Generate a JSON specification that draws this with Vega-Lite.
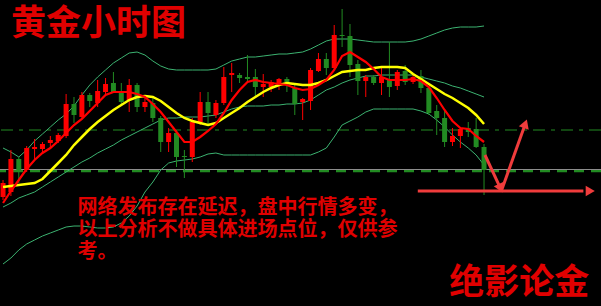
{
  "$schema": "https://vega.github.io/schema/vega-lite/v6.json",
  "width": 601,
  "height": 306,
  "autosize": {"type": "none"},
  "padding": 0,
  "background": "#000000",
  "config": {"view": {"stroke": null}},
  "datasets": {
    "bars": [
      {"i": -1, "o": 109, "h": 126, "l": 106, "c": 123, "ma5": 103, "ma10": 119, "up": 158, "mid": 99, "dn": 42},
      {"i": 0, "o": 114, "h": 156, "l": 110, "c": 147, "ma5": 115, "ma10": 120, "up": 154, "mid": 103, "dn": 48},
      {"i": 1, "o": 147, "h": 149, "l": 123, "c": 136, "ma5": 126, "ma10": 121, "up": 149, "mid": 108, "dn": 56},
      {"i": 2, "o": 136, "h": 160, "l": 134, "c": 158, "ma5": 137, "ma10": 122, "up": 156, "mid": 111, "dn": 62},
      {"i": 3, "o": 157, "h": 167, "l": 146, "c": 159, "ma5": 146, "ma10": 123, "up": 165, "mid": 114, "dn": 66},
      {"i": 4, "o": 157, "h": 164, "l": 153, "c": 162, "ma5": 153, "ma10": 127, "up": 172, "mid": 119, "dn": 70},
      {"i": 5, "o": 163, "h": 170, "l": 159, "c": 166, "ma5": 158, "ma10": 135, "up": 179, "mid": 124, "dn": 73},
      {"i": 6, "o": 165, "h": 173, "l": 163, "c": 171, "ma5": 165, "ma10": 143, "up": 186, "mid": 129, "dn": 76},
      {"i": 7, "o": 170, "h": 212, "l": 168, "c": 202, "ma5": 173, "ma10": 151, "up": 192, "mid": 134, "dn": 79},
      {"i": 8, "o": 202, "h": 209, "l": 183, "c": 191, "ma5": 181, "ma10": 161, "up": 200, "mid": 139, "dn": 80},
      {"i": 9, "o": 189, "h": 214, "l": 188, "c": 211, "ma5": 187, "ma10": 169, "up": 211, "mid": 144, "dn": 80},
      {"i": 10, "o": 211, "h": 213, "l": 199, "c": 205, "ma5": 195, "ma10": 177, "up": 221, "mid": 148, "dn": 79},
      {"i": 11, "o": 203, "h": 226, "l": 199, "c": 215, "ma5": 203, "ma10": 184, "up": 229, "mid": 153, "dn": 78},
      {"i": 12, "o": 214, "h": 228, "l": 211, "c": 222, "ma5": 211, "ma10": 190, "up": 236, "mid": 157, "dn": 78},
      {"i": 13, "o": 223, "h": 234, "l": 213, "c": 214, "ma5": 214, "ma10": 196, "up": 243, "mid": 161, "dn": 79},
      {"i": 14, "o": 215, "h": 223, "l": 201, "c": 204, "ma5": 214, "ma10": 201, "up": 248, "mid": 166, "dn": 83},
      {"i": 15, "o": 206, "h": 227, "l": 194, "c": 221, "ma5": 214, "ma10": 206, "up": 253, "mid": 170, "dn": 90},
      {"i": 16, "o": 221, "h": 223, "l": 194, "c": 199, "ma5": 212, "ma10": 209, "up": 254, "mid": 174, "dn": 100},
      {"i": 17, "o": 199, "h": 208, "l": 194, "c": 204, "ma5": 209, "ma10": 210, "up": 251, "mid": 178, "dn": 114},
      {"i": 18, "o": 203, "h": 208, "l": 184, "c": 188, "ma5": 202, "ma10": 209, "up": 245, "mid": 182, "dn": 124},
      {"i": 19, "o": 188, "h": 190, "l": 154, "c": 164, "ma5": 194, "ma10": 205, "up": 240, "mid": 186, "dn": 136},
      {"i": 20, "o": 164, "h": 178, "l": 154, "c": 173, "ma5": 184, "ma10": 199, "up": 237, "mid": 188, "dn": 143},
      {"i": 21, "o": 173, "h": 176, "l": 139, "c": 149, "ma5": 174, "ma10": 193, "up": 236, "mid": 188, "dn": 145},
      {"i": 22, "o": 150, "h": 156, "l": 128, "c": 149, "ma5": 164, "ma10": 188, "up": 236, "mid": 189, "dn": 146},
      {"i": 23, "o": 149, "h": 188, "l": 144, "c": 184, "ma5": 164, "ma10": 185, "up": 236, "mid": 189, "dn": 147},
      {"i": 24, "o": 184, "h": 214, "l": 181, "c": 204, "ma5": 169, "ma10": 183, "up": 236, "mid": 189, "dn": 149},
      {"i": 25, "o": 204, "h": 214, "l": 181, "c": 193, "ma5": 175, "ma10": 181, "up": 236, "mid": 190, "dn": 152},
      {"i": 26, "o": 191, "h": 206, "l": 188, "c": 203, "ma5": 182, "ma10": 183, "up": 237, "mid": 191, "dn": 153},
      {"i": 27, "o": 203, "h": 239, "l": 201, "c": 229, "ma5": 193, "ma10": 188, "up": 241, "mid": 194, "dn": 151},
      {"i": 28, "o": 231, "h": 243, "l": 214, "c": 233, "ma5": 206, "ma10": 193, "up": 245, "mid": 197, "dn": 151},
      {"i": 29, "o": 231, "h": 233, "l": 223, "c": 228, "ma5": 216, "ma10": 198, "up": 247, "mid": 199, "dn": 151},
      {"i": 30, "o": 229, "h": 251, "l": 224, "c": 227, "ma5": 224, "ma10": 204, "up": 249, "mid": 200, "dn": 151},
      {"i": 31, "o": 229, "h": 237, "l": 210, "c": 219, "ma5": 226, "ma10": 209, "up": 249, "mid": 200, "dn": 151},
      {"i": 32, "o": 219, "h": 232, "l": 209, "c": 222, "ma5": 224, "ma10": 214, "up": 250, "mid": 200, "dn": 151},
      {"i": 33, "o": 219, "h": 226, "l": 214, "c": 224, "ma5": 223, "ma10": 218, "up": 251, "mid": 201, "dn": 151},
      {"i": 34, "o": 223, "h": 228, "l": 216, "c": 227, "ma5": 222, "ma10": 221, "up": 252, "mid": 201, "dn": 151},
      {"i": 35, "o": 227, "h": 229, "l": 214, "c": 224, "ma5": 221, "ma10": 223, "up": 252, "mid": 202, "dn": 151},
      {"i": 36, "o": 218, "h": 221, "l": 191, "c": 202, "ma5": 218, "ma10": 222, "up": 253, "mid": 202, "dn": 151},
      {"i": 37, "o": 204, "h": 208, "l": 186, "c": 207, "ma5": 216, "ma10": 221, "up": 254, "mid": 203, "dn": 151},
      {"i": 38, "o": 205, "h": 238, "l": 196, "c": 236, "ma5": 217, "ma10": 221, "up": 257, "mid": 206, "dn": 151},
      {"i": 39, "o": 235, "h": 253, "l": 234, "c": 247, "ma5": 221, "ma10": 223, "up": 261, "mid": 211, "dn": 154},
      {"i": 40, "o": 247, "h": 253, "l": 231, "c": 238, "ma5": 226, "ma10": 226, "up": 265, "mid": 216, "dn": 158},
      {"i": 41, "o": 238, "h": 281, "l": 236, "c": 271, "ma5": 236, "ma10": 230, "up": 267, "mid": 219, "dn": 169},
      {"i": 42, "o": 271, "h": 297, "l": 259, "c": 270, "ma5": 250, "ma10": 234, "up": 267, "mid": 223, "dn": 181},
      {"i": 43, "o": 270, "h": 282, "l": 229, "c": 241, "ma5": 254, "ma10": 235, "up": 267, "mid": 226, "dn": 185},
      {"i": 44, "o": 242, "h": 246, "l": 211, "c": 225, "ma5": 249, "ma10": 236, "up": 266, "mid": 228, "dn": 189},
      {"i": 45, "o": 225, "h": 231, "l": 209, "c": 229, "ma5": 244, "ma10": 236, "up": 265, "mid": 230, "dn": 194},
      {"i": 46, "o": 229, "h": 231, "l": 221, "c": 223, "ma5": 237, "ma10": 238, "up": 264, "mid": 230, "dn": 197},
      {"i": 47, "o": 223, "h": 239, "l": 211, "c": 229, "ma5": 229, "ma10": 239, "up": 264, "mid": 231, "dn": 197},
      {"i": 48, "o": 227, "h": 264, "l": 209, "c": 219, "ma5": 226, "ma10": 239, "up": 264, "mid": 231, "dn": 197},
      {"i": 49, "o": 220, "h": 236, "l": 216, "c": 234, "ma5": 226, "ma10": 239, "up": 264, "mid": 231, "dn": 197},
      {"i": 50, "o": 235, "h": 241, "l": 221, "c": 224, "ma5": 226, "ma10": 238, "up": 264, "mid": 231, "dn": 197},
      {"i": 51, "o": 224, "h": 231, "l": 222, "c": 229, "ma5": 227, "ma10": 232, "up": 265, "mid": 231, "dn": 197},
      {"i": 52, "o": 230, "h": 236, "l": 213, "c": 218, "ma5": 225, "ma10": 227, "up": 267, "mid": 229, "dn": 195},
      {"i": 53, "o": 218, "h": 220, "l": 191, "c": 193, "ma5": 219, "ma10": 222, "up": 270, "mid": 227, "dn": 192},
      {"i": 54, "o": 195, "h": 201, "l": 171, "c": 188, "ma5": 208, "ma10": 217, "up": 273, "mid": 225, "dn": 186},
      {"i": 55, "o": 188, "h": 196, "l": 159, "c": 164, "ma5": 196, "ma10": 212, "up": 276, "mid": 223, "dn": 179},
      {"i": 56, "o": 164, "h": 178, "l": 160, "c": 170, "ma5": 185, "ma10": 208, "up": 278, "mid": 220, "dn": 171},
      {"i": 57, "o": 170, "h": 179, "l": 158, "c": 177, "ma5": 178, "ma10": 203, "up": 279, "mid": 218, "dn": 164},
      {"i": 58, "o": 178, "h": 184, "l": 169, "c": 174, "ma5": 177, "ma10": 198, "up": 279, "mid": 215, "dn": 158},
      {"i": 59, "o": 177, "h": 188, "l": 158, "c": 159, "ma5": 170, "ma10": 191, "up": 279, "mid": 212, "dn": 151},
      {"i": 60, "o": 159, "h": 162, "l": 111, "c": 136, "ma5": 164, "ma10": 182, "up": 280, "mid": 209, "dn": 141}
    ],
    "levels": [
      {"name": "resistance", "v": 176},
      {"name": "support_band", "v": 135},
      {"name": "support", "v": 136.5}
    ],
    "arrows": [
      {"arrow": "flat", "i": 51.6, "v": 115, "i2": 72.6, "v2": 115},
      {"arrow": "down", "i": 60.12, "v": 151, "i2": 62.0, "v2": 119.1},
      {"arrow": "up", "i": 62.24, "v": 116, "i2": 65.17, "v2": 180.8}
    ],
    "heads": [
      {"arrow": "flat", "i": 73.28, "v": 115},
      {"arrow": "down", "i": 62.0, "v": 119.1},
      {"arrow": "up", "i": 65.17, "v": 180.8}
    ],
    "labels": [
      {"kind": "title", "txt": "黄金小时图", "i": 0.0, "v": 282},
      {"kind": "note", "txt": "网络发布存在延迟，盘中行情多变，", "i": 8.45, "v": 98.5},
      {"kind": "note", "txt": "以上分析不做具体进场点位，仅供参", "i": 8.45, "v": 76.5},
      {"kind": "note", "txt": "考。", "i": 8.45, "v": 54.5},
      {"kind": "brand", "txt": "绝影论金", "i": 55.6, "v": 23.5}
    ]
  },
  "layer": [
    {
      "data": {"name": "levels"},
      "transform": [{"filter": {"field": "name", "equal": "resistance"}}],
      "mark": {"type": "rule", "color": "#228b22", "strokeWidth": 1.2, "strokeDash": [12, 6, 4, 6]},
      "encoding": {
        "y": {"field": "v", "type": "quantitative", "scale": {"domain": [0, 306], "nice": false, "zero": false}, "axis": null}
      }
    },
    {
      "data": {"name": "levels"},
      "transform": [{"filter": {"field": "name", "equal": "support_band"}}],
      "mark": {"type": "rule", "color": "#228b22", "strokeWidth": 2.5, "strokeDash": [10, 7]},
      "encoding": {
        "y": {"field": "v", "type": "quantitative", "scale": {"domain": [0, 306], "nice": false, "zero": false}, "axis": null}
      }
    },
    {
      "data": {"name": "levels"},
      "transform": [{"filter": {"field": "name", "equal": "support"}}],
      "mark": {"type": "rule", "color": "#8c8c8c", "strokeWidth": 1},
      "encoding": {
        "y": {"field": "v", "type": "quantitative", "scale": {"domain": [0, 306], "nice": false, "zero": false}, "axis": null}
      }
    },
    {
      "data": {"name": "bars"},
      "transform": [{"fold": ["up", "mid", "dn"], "as": ["band", "val"]}],
      "mark": {"type": "line", "color": "#3cb371", "strokeWidth": 1},
      "encoding": {
        "x": {"field": "i", "type": "quantitative", "scale": {"domain": [-0.75, 74.2], "nice": false, "zero": false}, "axis": null},
        "y": {"field": "val", "type": "quantitative", "scale": {"domain": [0, 306], "nice": false, "zero": false}, "axis": null},
        "detail": {"field": "band", "type": "nominal"}
      }
    },
    {
      "data": {"name": "bars"},
      "mark": {"type": "rule", "strokeWidth": 1},
      "encoding": {
        "x": {"field": "i", "type": "quantitative", "scale": {"domain": [-0.75, 74.2], "nice": false, "zero": false}, "axis": null},
        "y": {"field": "l", "type": "quantitative", "scale": {"domain": [0, 306], "nice": false, "zero": false}, "axis": null},
        "y2": {"field": "h"},
        "color": {"condition": {"test": "datum.c >= datum.o", "value": "#ff0000"}, "value": "#228b22"}
      }
    },
    {
      "data": {"name": "bars"},
      "mark": {"type": "bar", "size": 5, "strokeWidth": 0},
      "encoding": {
        "x": {"field": "i", "type": "quantitative", "scale": {"domain": [-0.75, 74.2], "nice": false, "zero": false}, "axis": null},
        "y": {"field": "o", "type": "quantitative", "scale": {"domain": [0, 306], "nice": false, "zero": false}, "axis": null},
        "y2": {"field": "c"},
        "color": {"condition": {"test": "datum.c >= datum.o", "value": "#ff0000"}, "value": "#228b22"}
      }
    },
    {
      "data": {"name": "bars"},
      "mark": {"type": "line", "color": "#ffff00", "strokeWidth": 2.5},
      "encoding": {
        "x": {"field": "i", "type": "quantitative", "scale": {"domain": [-0.75, 74.2], "nice": false, "zero": false}, "axis": null},
        "y": {"field": "ma10", "type": "quantitative", "scale": {"domain": [0, 306], "nice": false, "zero": false}, "axis": null}
      }
    },
    {
      "data": {"name": "bars"},
      "mark": {"type": "line", "color": "#ff0000", "strokeWidth": 2.2},
      "encoding": {
        "x": {"field": "i", "type": "quantitative", "scale": {"domain": [-0.75, 74.2], "nice": false, "zero": false}, "axis": null},
        "y": {"field": "ma5", "type": "quantitative", "scale": {"domain": [0, 306], "nice": false, "zero": false}, "axis": null}
      }
    },
    {
      "data": {"name": "labels"},
      "transform": [{"filter": {"field": "kind", "equal": "title"}}],
      "mark": {"type": "text", "font": "Noto Sans CJK SC", "fontSize": 35, "fontWeight": "bold", "color": "#e00000", "align": "left", "baseline": "middle"},
      "encoding": {
        "x": {"field": "i", "type": "quantitative", "scale": {"domain": [-0.75, 74.2], "nice": false, "zero": false}, "axis": null},
        "y": {"field": "v", "type": "quantitative", "scale": {"domain": [0, 306], "nice": false, "zero": false}, "axis": null},
        "text": {"field": "txt"}
      }
    },
    {
      "data": {"name": "labels"},
      "transform": [{"filter": {"field": "kind", "equal": "note"}}],
      "mark": {"type": "text", "font": "Noto Sans CJK SC", "fontSize": 20, "fontWeight": "bold", "color": "#e00000", "align": "left", "baseline": "middle"},
      "encoding": {
        "x": {"field": "i", "type": "quantitative", "scale": {"domain": [-0.75, 74.2], "nice": false, "zero": false}, "axis": null},
        "y": {"field": "v", "type": "quantitative", "scale": {"domain": [0, 306], "nice": false, "zero": false}, "axis": null},
        "text": {"field": "txt"}
      }
    },
    {
      "data": {"name": "labels"},
      "transform": [{"filter": {"field": "kind", "equal": "brand"}}],
      "mark": {"type": "text", "font": "Noto Sans CJK SC", "fontSize": 35, "fontWeight": "bold", "color": "#e00000", "align": "left", "baseline": "middle"},
      "encoding": {
        "x": {"field": "i", "type": "quantitative", "scale": {"domain": [-0.75, 74.2], "nice": false, "zero": false}, "axis": null},
        "y": {"field": "v", "type": "quantitative", "scale": {"domain": [0, 306], "nice": false, "zero": false}, "axis": null},
        "text": {"field": "txt"}
      }
    },
    {
      "data": {"name": "arrows"},
      "mark": {"type": "rule", "color": "#f03c3c", "strokeWidth": 3},
      "encoding": {
        "x": {"field": "i", "type": "quantitative", "scale": {"domain": [-0.75, 74.2], "nice": false, "zero": false}, "axis": null},
        "y": {"field": "v", "type": "quantitative", "scale": {"domain": [0, 306], "nice": false, "zero": false}, "axis": null},
        "x2": {"field": "i2"},
        "y2": {"field": "v2"}
      }
    },
    {
      "data": {"name": "heads"},
      "transform": [{"filter": {"field": "arrow", "equal": "flat"}}],
      "mark": {"type": "point", "shape": "triangle", "filled": true, "color": "#f03c3c", "size": 110, "angle": 90, "opacity": 1},
      "encoding": {
        "x": {"field": "i", "type": "quantitative", "scale": {"domain": [-0.75, 74.2], "nice": false, "zero": false}, "axis": null},
        "y": {"field": "v", "type": "quantitative", "scale": {"domain": [0, 306], "nice": false, "zero": false}, "axis": null}
      }
    },
    {
      "data": {"name": "heads"},
      "transform": [{"filter": {"field": "arrow", "equal": "down"}}],
      "mark": {"type": "point", "shape": "triangle", "filled": true, "color": "#f03c3c", "size": 110, "angle": 155, "opacity": 1},
      "encoding": {
        "x": {"field": "i", "type": "quantitative", "scale": {"domain": [-0.75, 74.2], "nice": false, "zero": false}, "axis": null},
        "y": {"field": "v", "type": "quantitative", "scale": {"domain": [0, 306], "nice": false, "zero": false}, "axis": null}
      }
    },
    {
      "data": {"name": "heads"},
      "transform": [{"filter": {"field": "arrow", "equal": "up"}}],
      "mark": {"type": "point", "shape": "triangle", "filled": true, "color": "#f03c3c", "size": 110, "angle": 20, "opacity": 1},
      "encoding": {
        "x": {"field": "i", "type": "quantitative", "scale": {"domain": [-0.75, 74.2], "nice": false, "zero": false}, "axis": null},
        "y": {"field": "v", "type": "quantitative", "scale": {"domain": [0, 306], "nice": false, "zero": false}, "axis": null}
      }
    }
  ]
}
